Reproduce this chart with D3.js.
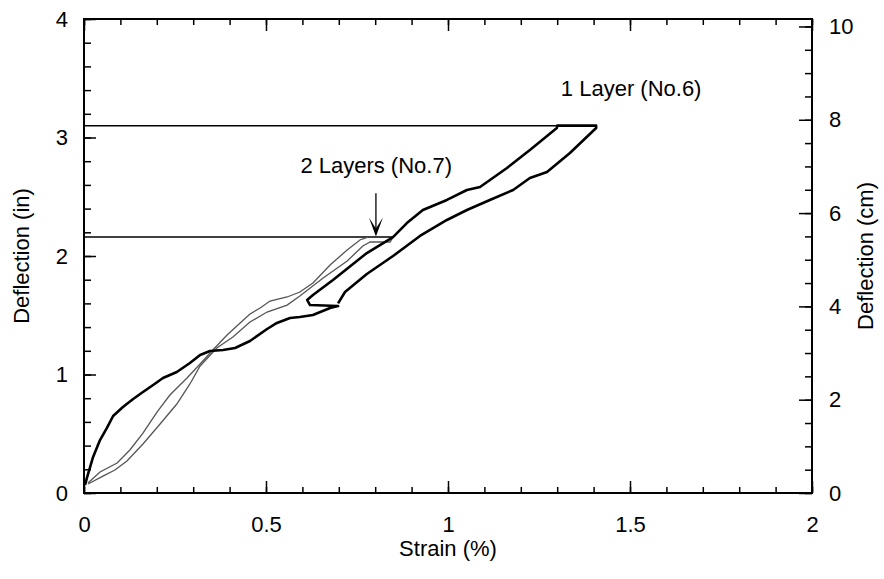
<!DOCTYPE html>
<html>
<head>
<meta charset="utf-8">
<script src="https://cdn.jsdelivr.net/npm/d3@7"></script>
<style>
  body { margin: 0; background: #fff; }
  text { font-family: "Liberation Sans", Arial, sans-serif; fill: #000; }
  .axis path { display: none; }
  .axis line { stroke: #000; stroke-width: 1.5; }
  .axis text { font-size: 22px; }
  .label { font-size: 22px; }
</style>
</head>
<body>
<div id="chart"></div>
<script>
var margin = {top: 19, right: 72, bottom: 86, left: 84},
    width = 884 - margin.left - margin.right,
    height = 579 - margin.top - margin.bottom;

// strain (%) / deflection (in)
// 1 layer: loading curve up to the notch, then up the upper branch, across the top, down the lower branch
var oneLayerStrain = [0.003, 0.008, 0.025, 0.044, 0.063, 0.080, 0.107, 0.135, 0.162, 0.190, 0.217, 0.255,
                      0.291, 0.319, 0.346, 0.382, 0.415, 0.456, 0.503, 0.530, 0.566, 0.593, 0.629, 0.676, 0.698,
                      0.621, 0.613, 0.629, 0.684, 0.777, 0.849, 0.887, 0.931, 0.997, 1.052, 1.088, 1.162, 1.225, 1.299, 1.300,
                      1.407, 1.407, 1.335, 1.272, 1.225, 1.179, 1.115, 1.052, 0.997, 0.923, 0.849, 0.777, 0.717, 0.698];
var oneLayerDefl   = [0.068, 0.127, 0.304, 0.447, 0.549, 0.650, 0.726, 0.793, 0.852, 0.911, 0.970, 1.021,
                      1.097, 1.165, 1.198, 1.207, 1.224, 1.283, 1.384, 1.435, 1.477, 1.485, 1.502, 1.561, 1.578,
                      1.586, 1.629, 1.671, 1.797, 2.025, 2.160, 2.278, 2.388, 2.473, 2.557, 2.582, 2.743, 2.894, 3.080, 3.100,
                      3.100, 3.080, 2.869, 2.709, 2.658, 2.557, 2.473, 2.388, 2.304, 2.169, 2.000, 1.848, 1.696, 1.600];

// 2 layers: two gauges
var twoLayerStrainA = [0.011, 0.044, 0.091, 0.126, 0.162, 0.201, 0.236, 0.283, 0.319, 0.354, 0.393, 0.429,
                       0.456, 0.484, 0.511, 0.558, 0.593, 0.629, 0.676, 0.723, 0.758, 0.780];
var twoLayerDeflA   = [0.084, 0.177, 0.253, 0.363, 0.506, 0.684, 0.827, 0.970, 1.089, 1.207, 1.333, 1.435,
                       1.511, 1.561, 1.620, 1.654, 1.696, 1.772, 1.924, 2.051, 2.135, 2.160];
var twoLayerStrainB = [0.011, 0.052, 0.085, 0.118, 0.162, 0.209, 0.255, 0.291, 0.319, 0.365, 0.409, 0.456,
                       0.503, 0.558, 0.593, 0.657, 0.723, 0.766, 0.786, 0.841, 0.849];
var twoLayerDeflB   = [0.076, 0.143, 0.194, 0.270, 0.414, 0.582, 0.751, 0.920, 1.072, 1.224, 1.316, 1.443,
                       1.527, 1.586, 1.662, 1.814, 1.958, 2.084, 2.118, 2.118, 2.160];

// peak deflection held while strain drops back
var peakStrain = [1.407, 0.849],
    peakDefl = [3.10, 2.16];

var seriesNames = ["1 Layer (No.6)", "2 Layers (No.7)"];

var xMajor = [0, 0.5, 1, 1.5, 2],
    yMajor = [0, 1, 2, 3, 4],
    cmMajor = [0, 2, 4, 6, 8, 10];

function zip(xs, ys) {
  return xs.map(function(d, i) { return [d, ys[i]]; });
}

var chart = d3.select("#chart")
              .append("svg")
                .attr("width", width + margin.left + margin.right)
                .attr("height", height + margin.top + margin.bottom)
              .append("g")
                .attr("transform", "translate(" + margin.left + "," + margin.top + ")");

// scales
var xScale = d3.scaleLinear().domain([0, 2]).range([0, width]);
var yScale = d3.scaleLinear().domain([0, 4]).range([height, 0]);
var yScaleCm = d3.scaleLinear().domain([0, 4 * 2.54]).range([height, 0]);

// axes, ticks point inward; minor ticks drawn as separate unlabeled axes
function minor(axis, values, size) {
  return axis.tickValues(values).tickSize(-size).tickFormat("");
}

chart.append("g").attr("class", "axis")
     .attr("transform", "translate(0," + height + ")")
     .call(minor(d3.axisBottom(xScale), d3.range(0, 2.001, 0.1), 6));
chart.append("g").attr("class", "axis")
     .attr("transform", "translate(0," + height + ")")
     .call(d3.axisBottom(xScale).tickValues(xMajor).tickSize(-12).tickPadding(23)
             .tickFormat(function(d) { return d; }));

chart.append("g").attr("class", "axis")
     .call(minor(d3.axisTop(xScale), d3.range(0, 2.001, 0.1), 6));
chart.append("g").attr("class", "axis")
     .call(minor(d3.axisTop(xScale), xMajor, 12));

chart.append("g").attr("class", "axis")
     .call(minor(d3.axisLeft(yScale), d3.range(0, 4.001, 0.2), 7));
chart.append("g").attr("class", "axis")
     .call(d3.axisLeft(yScale).tickValues(yMajor).tickSize(-12).tickPadding(16)
             .tickFormat(function(d) { return d; }));

chart.append("g").attr("class", "axis")
     .attr("transform", "translate(" + width + ",0)")
     .call(minor(d3.axisRight(yScaleCm), d3.range(0, 10.01, 0.5), 7));
chart.append("g").attr("class", "axis")
     .attr("transform", "translate(" + width + ",0)")
     .call(d3.axisRight(yScaleCm).tickValues(cmMajor).tickSize(-13).tickPadding(17)
             .tickFormat(function(d) { return d; }));

// frame
chart.append("rect")
     .attr("width", width)
     .attr("height", height)
     .attr("fill", "none")
     .attr("stroke", "#000")
     .attr("stroke-width", 2);

// axis titles
chart.append("text")
     .attr("class", "label")
     .attr("x", width / 2)
     .attr("y", height + 63)
     .attr("text-anchor", "middle")
     .text("Strain (%)");

chart.append("text")
     .attr("class", "label")
     .attr("transform", "translate(" + (29 - margin.left) + "," + (height / 2) + ") rotate(-90)")
     .attr("text-anchor", "middle")
     .text("Deflection (in)");

chart.append("text")
     .attr("class", "label")
     .attr("transform", "translate(" + (873 - margin.left) + "," + (height / 2) + ") rotate(-90)")
     .attr("text-anchor", "middle")
     .text("Deflection (cm)");

// curves
var line = d3.line()
             .x(function(d) { return xScale(d[0]); })
             .y(function(d) { return yScale(d[1]); });

// peak hold lines
chart.selectAll(".peak")
  .data(zip(peakStrain, peakDefl))
.enter().append("line")
  .attr("class", "peak")
  .attr("x1", xScale(0))
  .attr("x2", function(d) { return xScale(d[0]); })
  .attr("y1", function(d) { return yScale(d[1]); })
  .attr("y2", function(d) { return yScale(d[1]); })
  .attr("stroke", "#000")
  .attr("stroke-width", 1.5);

chart.append("path")
     .datum(zip(twoLayerStrainA, twoLayerDeflA))
     .attr("d", line)
     .attr("fill", "none")
     .attr("stroke", "#555")
     .attr("stroke-width", 1.3);

chart.append("path")
     .datum(zip(twoLayerStrainB, twoLayerDeflB))
     .attr("d", line)
     .attr("fill", "none")
     .attr("stroke", "#555")
     .attr("stroke-width", 1.3);

chart.append("path")
     .datum(zip(oneLayerStrain, oneLayerDefl))
     .attr("d", line)
     .attr("fill", "none")
     .attr("stroke", "#000")
     .attr("stroke-width", 2.6)
     .attr("stroke-linejoin", "round");

// annotations
chart.append("text")
     .attr("class", "label")
     .attr("x", xScale(1.31))
     .attr("y", yScale(3.35))
     .text(seriesNames[0]);

chart.append("text")
     .attr("class", "label")
     .attr("x", xScale(1.011))
     .attr("y", yScale(2.70))
     .attr("text-anchor", "end")
     .text(seriesNames[1]);

// arrow pointing at the 2 layer peak
var arrowX = xScale(0.802),
    arrowTop = yScale(2.53),
    arrowTip = yScale(2.165);

chart.append("line")
     .attr("x1", arrowX).attr("x2", arrowX)
     .attr("y1", arrowTop).attr("y2", arrowTip - 4)
     .attr("stroke", "#000")
     .attr("stroke-width", 1.3);

chart.append("path")
     .attr("d", "M" + (arrowX - 7) + "," + (arrowTip - 19) +
                "L" + arrowX + "," + (arrowTip - 8) +
                "L" + (arrowX + 7) + "," + (arrowTip - 19) +
                "L" + arrowX + "," + arrowTip + "Z")
     .attr("fill", "#000");
</script>
</body>
</html>
